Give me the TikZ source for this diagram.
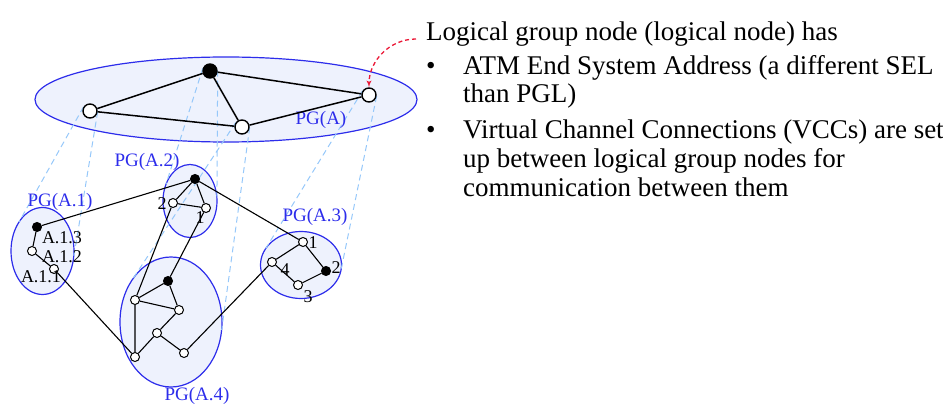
\documentclass[tikz,border=0pt]{standalone}
\usepackage{fontspec}
\setmainfont{Liberation Serif}
\usepackage{tikz}
\usepackage{xcolor}
\usetikzlibrary{positioning}
\usetikzlibrary{shapes, arrows}
\definecolor{pgblue}{RGB}{45,45,235}
\definecolor{pgfill}{RGB}{238,242,253}
\definecolor{projblue}{RGB}{150,200,250}
\definecolor{callred}{RGB}{235,25,55}
\pgfdeclarelayer{back}
\pgfsetlayers{back,main}
\tikzstyle{link} = [draw, line width=1.1pt]

\begin{document}
\begin{tikzpicture}[x=1pt, y=1pt,
		pg/.style={ellipse, draw=pgblue, fill=pgfill, line width=1.2pt, inner sep=0pt, outer sep=0pt},
		bignode/.style={circle, draw, fill=white, line width=1.4pt, minimum size=14pt, inner sep=0pt},
		lnode/.style={circle, draw, fill=white, line width=1pt, minimum size=9pt, inner sep=0pt},
		leader/.style={fill=black},
		pglabel/.style={text=pgblue, font=\fontsize{19}{19}\selectfont, inner sep=0pt},
		idlabel/.style={font=\fontsize{18}{18}\selectfont, inner sep=0pt},
		proj/.style={draw=projblue, dash pattern=on 6pt off 4pt, line width=1pt},
		toplink/.style={draw, line width=1.5pt},
		txt/.style={anchor=base west, inner sep=0pt, font=\fontsize{27}{29}\selectfont}]
	\useasboundingbox (0,0) rectangle (943,-406);
	
	% PG(A) level
	\node[bignode] at (90,-111) (L) {};
	\node[bignode, leader] at (210,-71) (T) {};
	\node[bignode] at (242,-127) (M) {};
	\node[bignode] at (369,-95) (R) {};
	\node[pglabel] at (321,-120) (lpga) {PG(A)};
	
	% PG(A.1)
	\node[lnode, leader] at (37,-227) (a13) {};
	\node[lnode] at (32,-251) (a12) {};
	\node[lnode] at (54,-269) (a11) {};
	\node[idlabel] at (62,-238) {A.1.3};
	\node[idlabel] at (62,-257) {A.1.2};
	\node[idlabel] at (41,-277) {A.1.1};
	\node[pglabel] at (60,-202) (lpga1) {PG(A.1)};
	
	% PG(A.2)
	\node[lnode, leader] at (195,-179) (b0) {};
	\node[lnode] at (173,-203) (b2) {};
	\node[lnode] at (206,-208) (b1) {};
	\node[idlabel] at (162,-204) {2};
	\node[idlabel] at (200,-218) {1};
	\node[pglabel] at (147,-162) (lpga2) {PG(A.2)};
	
	% PG(A.3)
	\node[lnode] at (303,-242) (c1) {};
	\node[lnode] at (272,-262) (c4) {};
	\node[lnode, leader] at (326,-271) (c2) {};
	\node[lnode] at (298,-285) (c3) {};
	\node[idlabel] at (313,-243) {1};
	\node[idlabel] at (285,-270) {4};
	\node[idlabel] at (336,-268) {2};
	\node[idlabel] at (308,-297) {3};
	\node[pglabel] at (315,-217) (lpga3) {PG(A.3)};
	
	% PG(A.4)
	\node[lnode, leader] at (168,-281) (d0) {};
	\node[lnode] at (135,-300) (da) {};
	\node[lnode] at (179,-310) (db) {};
	\node[lnode] at (157,-333) (dc) {};
	\node[lnode] at (135,-357) (dd) {};
	\node[lnode] at (184,-353) (de) {};
	\node[pglabel] at (197,-396) (lpga4) {PG(A.4)};
	
	\begin{pgfonlayer}{back}
		\node[pg, minimum width=382pt, minimum height=85pt] at (226,-99.5) (PGA) {};
		\node[pg, minimum width=63pt, minimum height=87pt] at (42.5,-251) (A1) {};
		\node[pg, minimum width=54pt, minimum height=73pt] at (190,-201) (A2) {};
		\node[pg, minimum width=81pt, minimum height=67pt] at (301,-265) (A3) {};
		\node[pg, minimum width=102pt, minimum height=130pt] at (171,-322) (A4) {};
		
		\draw[proj] (L.147) -- (A1.129);
		\draw[proj] (L.-6) -- (A1.-12);
		\draw[proj] (T.159) -- (A2.145);
		\draw[proj] (T.3) -- (A2.6);
		\draw[proj] (M.144) -- (A4.131);
		\draw[proj] (M.-4) -- (A4.-9);
		\draw[proj] (R.146) -- (A3.155);
		\draw[proj] (R.-9) -- (A3.-6);
	\end{pgfonlayer}
	
	\path[toplink] (L) -- (T) (L) -- (M) (T) -- (M) (T) -- (R) (M) -- (R);
	
	\path[link] (a13) -- (a12) -- (a11);
	\path[link] (b0) -- (b2) -- (b1) -- (b0);
	\path[link] (c1) -- (c4) -- (c3) -- (c2) -- (c1);
	\path[link] (d0) -- (da) -- (db) -- (d0);
	\path[link] (da) -- (dd) -- (dc) -- (db);
	\path[link] (dc) -- (de);
	
	\path[link] (a13) -- (b0);
	\path[link] (a11) -- (dd);
	\path[link] (b2) -- (da);
	\path[link] (b1) -- (d0);
	\path[link] (b0) -- (c1);
	\path[link] (de) -- (c4);
	
	% logical group node text
	\node[txt] at (426,-41) (head) {Logical group node (logical node) has};
	\node[txt] at (426,-74.5) (bul1) {\textbullet};
	\node[txt] at (463,-74.5) (item1a) {ATM End System Address (a different SEL};
	\node[txt] at (463,-103) (item1b) {than PGL)};
	\node[txt] at (426,-139) (bul2) {\textbullet};
	\node[txt] at (463,-139) (item2a) {Virtual Channel Connections (VCCs) are set};
	\node[txt] at (463,-168) (item2b) {up between logical group nodes for};
	\node[txt] at (463,-197) (item2c) {communication between them};
	
	\draw[callred, dash pattern=on 4pt off 3pt, line width=1.3pt, -latex'] ([xshift=-10pt, yshift=2pt]head.base west) to[out=180, in=90] (R.north);
	
\end{tikzpicture}
\end{document}
